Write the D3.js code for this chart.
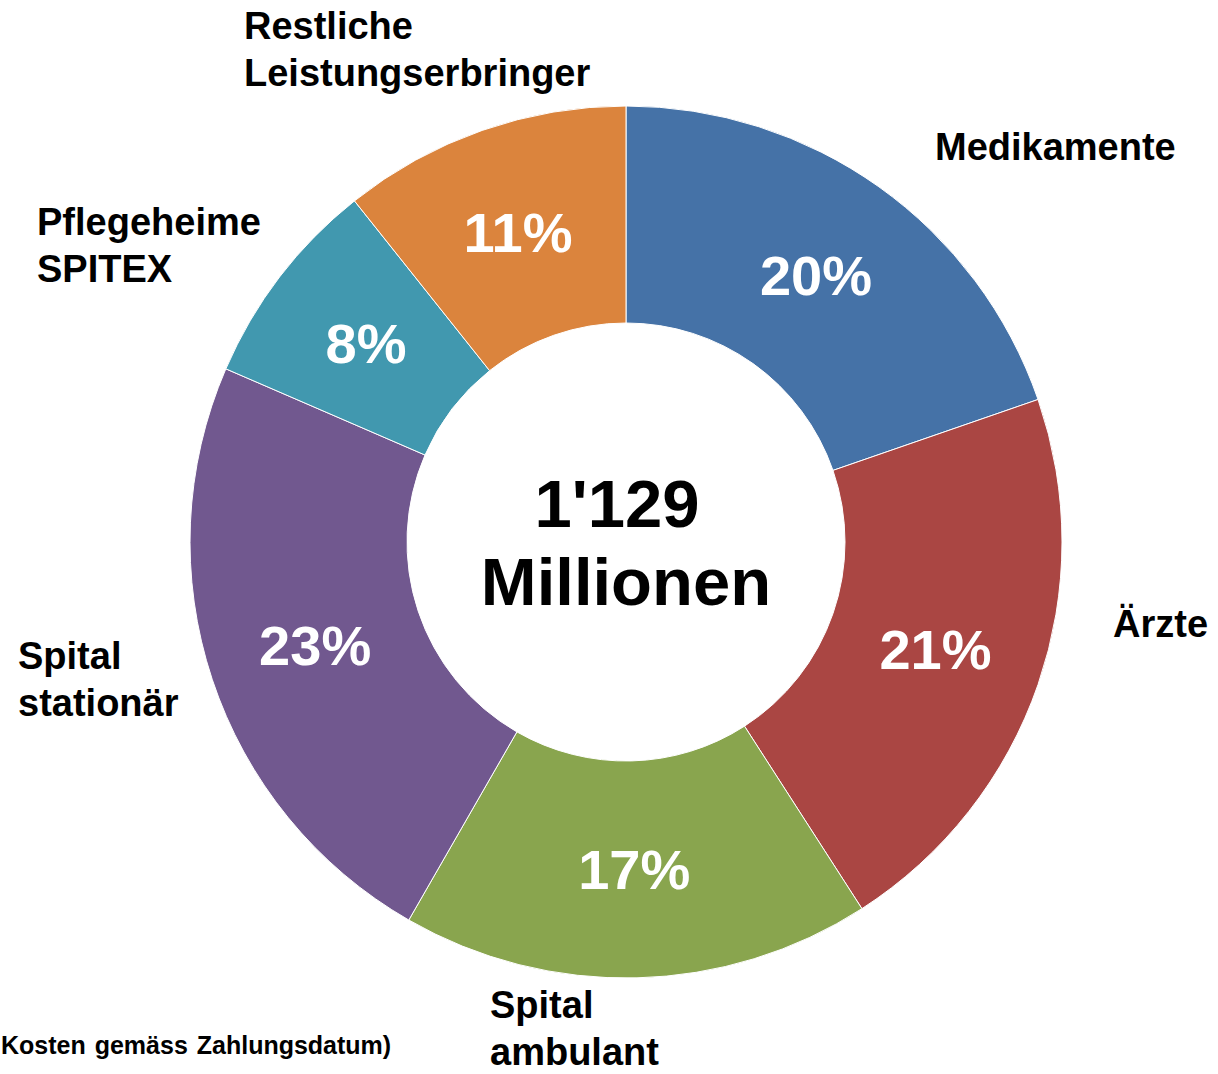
<!DOCTYPE html>
<html>
<head>
<meta charset="utf-8">
<script src="https://cdn.jsdelivr.net/npm/d3@7"></script>
<style>
  body { margin: 0; background: #fff; }
  svg { display: block; font-family: "Liberation Sans", Arial, sans-serif; font-weight: bold; }
</style>
</head>
<body>
<script>
// data (shares in %, clockwise from 12 o'clock)
var categories = ["Medikamente", "Ärzte", "Spital ambulant", "Spital stationär", "Pflegeheime SPITEX", "Restliche Leistungserbringer"];
var shares = [19.7, 21.2, 17.4, 23.2, 7.8, 10.7];
var shareLabels = ["20%", "21%", "17%", "23%", "8%", "11%"];
var colors = ["#4572A7", "#AA4643", "#89A54E", "#71588F", "#4198AF", "#DB843D"];
// category labels, split into lines
var labelLines = [["Medikamente"], ["Ärzte"], ["Spital", "ambulant"], ["Spital", "stationär"], ["Pflegeheime", "SPITEX"], ["Restliche", "Leistungserbringer"]];
var centerLines = ["1'129", "Millionen"];
var footnote = "Kosten gemäss Zahlungsdatum)";

var width = 1218, height = 1074;
var cx = 626, cy = 542, outerR = 436, innerR = 219;

var svg = d3.select("body").append("svg")
    .attr("width", width)
    .attr("height", height);

var pie = d3.pie().sort(null).value(function(d){ return d; });
var arcs = pie(shares);

var arc = d3.arc().innerRadius(innerR).outerRadius(outerR);

var g = svg.append("g").attr("transform", "translate(" + cx + "," + cy + ")");

//slices
g.selectAll("path.slice")
    .data(arcs)
    .enter().append("path")
    .attr("class", "slice")
    .attr("d", arc)
    .attr("fill", function(d, i){ return colors[i]; })
    .attr("stroke", "#fff")
    .attr("stroke-width", 1);

//percent labels on the ring
g.selectAll("text.pct")
    .data(arcs)
    .enter().append("text")
    .attr("class", "pct")
    .attr("transform", function(d){ return "translate(" + arc.centroid(d) + ")"; })
    .attr("text-anchor", "middle")
    .attr("dy", "0.35em")
    .attr("fill", "#fff")
    .attr("font-size", 56)
    .text(function(d, i){ return shareLabels[i]; });

//center text
svg.append("text").attr("x", 617).attr("y", 527)
    .attr("text-anchor", "middle").attr("font-size", 67).attr("fill", "#000")
    .text(centerLines[0]);
svg.append("text").attr("x", cx).attr("y", 605)
    .attr("text-anchor", "middle").attr("font-size", 67).attr("fill", "#000")
    .text(centerLines[1]);

//category label anchors (left x, first baseline)
var labelPos = [[935, 160], [1113, 637], [490, 1018], [18, 669], [37, 235], [244, 39]];
var lineGap = 47;

labelLines.forEach(function(lines, i){
    var t = svg.append("text")
        .attr("x", labelPos[i][0])
        .attr("y", labelPos[i][1])
        .attr("font-size", 38)
        .attr("fill", "#000");
    lines.forEach(function(l, j){
        t.append("tspan")
            .attr("x", labelPos[i][0])
            .attr("y", labelPos[i][1] + j * lineGap)
            .text(l);
    });
});

//footnote at the bottom left
svg.append("text")
    .attr("x", 1).attr("y", 1054)
    .attr("font-size", 25)
    .attr("word-spacing", 2)
    .attr("fill", "#000")
    .text(footnote);
</script>
</body>
</html>
